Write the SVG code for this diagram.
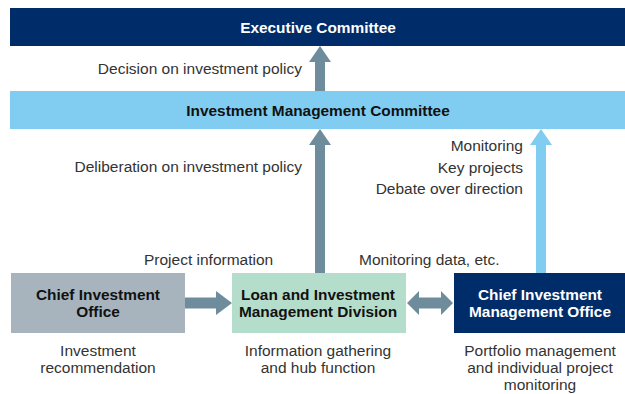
<svg xmlns="http://www.w3.org/2000/svg" width="625" height="394" viewBox="0 0 625 394">
<style>
text{font-family:"Liberation Sans",Arial,Helvetica,sans-serif;font-size:15.5px;fill:#333}
.b{font-weight:bold;font-size:15.4px;fill:#111}
.w{fill:#fff}
.c{text-anchor:middle}
.r{text-anchor:end}
.navy{fill:#002c6a}
.lb{fill:#80cdf1}
.gray{fill:#6f8c9d}
</style>
<rect width="625" height="394" fill="#fff"/>
<g id="connectors">
<polygon class="gray" points="315,91 315,62 309,62 320,46 331,62 325,62 325,91"/>
<polygon class="gray" points="315,273 315,145 309,145 320,129 331,145 325,145 325,273"/>
<polygon class="lb" points="536,273 536,145 530,145 541,129 552,145 546,145 546,273"/>
<polygon class="gray" points="185,297.5 216,297.5 216,291 232,303 216,315 216,308.5 185,308.5"/>
<polygon class="gray" points="407,303 419,291 419,297.5 441,297.5 441,291 453,303 441,315 441,308.5 419,308.5 419,315"/>
</g>
<g id="executive-committee">
<rect class="navy" x="10" y="8" width="615" height="38"/>
<text class="b w c" x="318" y="32.5">Executive Committee</text>
</g>
<g id="investment-management-committee">
<rect class="lb" x="10" y="91" width="615" height="38"/>
<text class="b c" x="318" y="115.5">Investment Management Committee</text>
</g>
<g id="chief-investment-office">
<rect x="11" y="273" width="174" height="60" fill="#a7b4be"/>
<text class="b c" x="98" y="300">Chief Investment</text>
<text class="b c" x="98" y="317">Office</text>
</g>
<g id="loan-investment-division">
<rect x="232" y="273" width="174" height="60" fill="#b5ddcc"/>
<text class="b c" x="318" y="300">Loan and Investment</text>
<text class="b c" x="318" y="317">Management Division</text>
</g>
<g id="chief-investment-management-office">
<rect class="navy" x="454" y="273" width="171" height="60"/>
<text class="b w c" x="540" y="300">Chief Investment</text>
<text class="b w c" x="540" y="317">Management Office</text>
</g>
<g id="labels">
<text class="r" x="302" y="74">Decision on investment policy</text>
<text class="r" x="302" y="172">Deliberation on investment policy</text>
<text class="r" x="523" y="151">Monitoring</text>
<text class="r" x="523" y="172.5">Key projects</text>
<text class="r" x="523" y="193.5">Debate over direction</text>
<text x="144" y="265">Project information</text>
<text x="359" y="265">Monitoring data, etc.</text>
<text class="c" x="98" y="356">Investment</text>
<text class="c" x="98" y="373">recommendation</text>
<text class="c" x="318" y="356">Information gathering</text>
<text class="c" x="318" y="373">and hub function</text>
<text class="c" x="540" y="356">Portfolio management</text>
<text class="c" x="540" y="373">and individual project</text>
<text class="c" x="540" y="390">monitoring</text>
</g>
</svg>
